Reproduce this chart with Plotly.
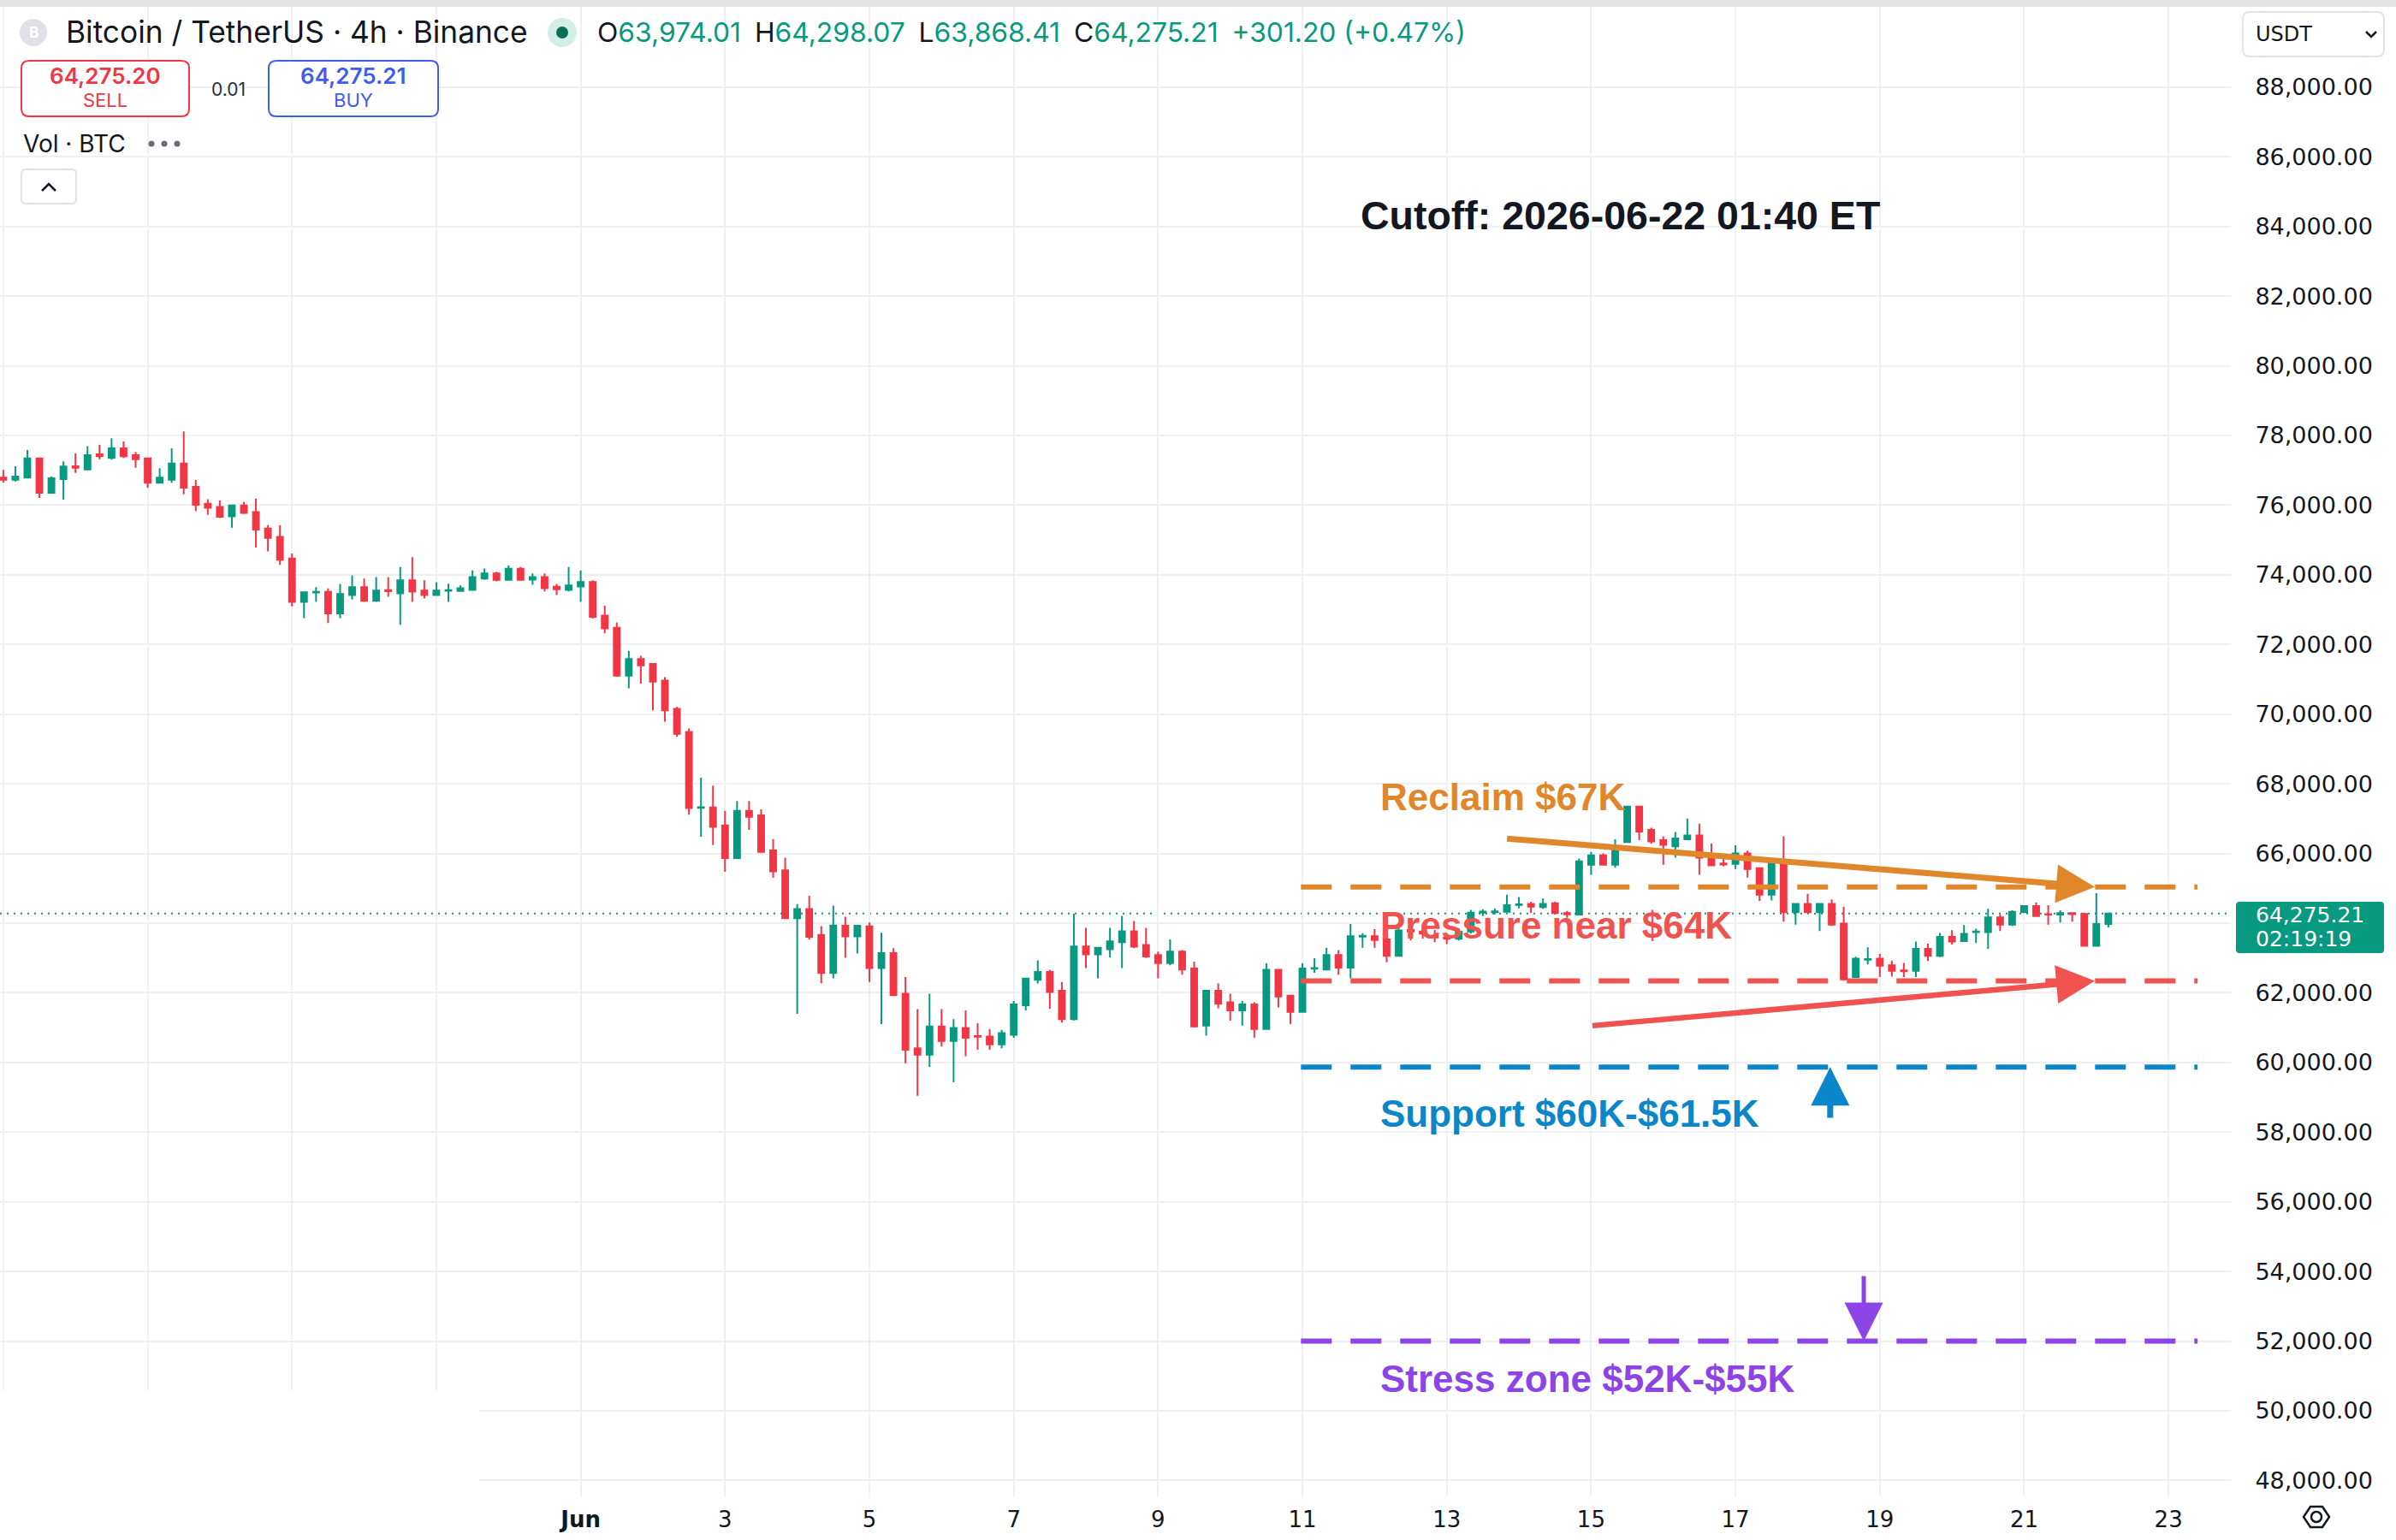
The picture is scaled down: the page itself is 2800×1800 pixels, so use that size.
import plotly.graph_objects as go
import pandas as pd

W, H = 2800, 1800

# ---------------- data ----------------
start_time = "2026-05-24 00:00"
opens = [
    76787, 76729, 76787, 77344, 76352, 76746,
    77115, 77025, 77459, 77352, 77631, 77434,
    77344, 76639, 76729, 77197, 76525, 76041,
    75951, 75680, 75992, 75803, 75328, 75090,
    74467, 73221, 73490, 73508, 72893, 73418,
    73647, 73254, 73560, 73467, 73844, 73549,
    73418, 73540, 73533, 73565, 73893, 74041,
    73852, 74172, 73860, 73934, 73656, 73565,
    73664, 73795, 72830, 72481, 71104, 71584,
    71442, 70961, 70153, 69486, 67310, 67322,
    66808, 65868, 67223, 67092, 66087, 65518,
    64141, 64403, 63660, 62567, 63923, 63616,
    63908, 62708, 63142, 61975, 60408, 60225,
    61033, 60617, 60992, 60760, 60742, 60517,
    60792, 61642, 62375, 62600, 62058, 61242,
    63333, 63100, 63250, 63450, 63767, 63375,
    63083, 62850, 63183, 62700, 61058, 62058,
    61725, 61492, 61667, 60958, 62658, 61917,
    61450, 62690, 62667, 63083, 62725, 63615,
    63625, 63533, 63058, 63800, 63760, 63640,
    63590, 63550, 63760, 64300, 64310, 64327,
    64520, 64555, 64457, 64571, 64286, 64245,
    65673, 65943, 65673, 66327, 67347, 66678,
    66384, 66204, 66408, 66514, 65894, 65710,
    65698, 66000, 65576, 64816, 65796, 64310,
    64555, 64310, 64555, 63984, 62449, 62950,
    62980, 62792, 62640, 62629, 63265, 63061,
    63608, 63486, 63740, 63739, 64163, 63959,
    64310, 64490, 64260, 64245, 64290, 64261,
    63347, 63974.01,
]
highs = [
    77008, 77115, 77582, 77360, 76820, 77254,
    77484, 77689, 77730, 77918, 77828, 77525,
    77360, 77057, 77631, 78115, 76721, 76172,
    76131, 76000, 76098, 76188, 75426, 75426,
    74607, 73510, 73647, 73606, 73737, 73984,
    73893, 73934, 73934, 74221, 74508, 73844,
    73787, 73746, 73697, 74123, 74180, 74082,
    74270, 74221, 74041, 74041, 73737, 74221,
    74123, 73844, 73110, 72634, 71814, 71672,
    71450, 71060, 70207, 69584, 68174, 67945,
    67223, 67508, 67508, 67267, 66415, 65879,
    64545, 64786, 63912, 64502, 64185, 63930,
    64017, 63725, 63283, 62450, 61533, 61975,
    61533, 61242, 61492, 61125, 60958, 60933,
    61767, 62420, 62933, 62658, 62308, 64267,
    63867, 63310, 63867, 64208, 64058, 63867,
    63183, 63533, 63225, 62892, 62070, 62267,
    61975, 61767, 61725, 62850, 62670, 61930,
    62850, 62992, 63292, 63225, 63975, 63708,
    63825, 63808, 63867, 64100, 63950, 63800,
    63700, 63850, 64380, 64400, 64420, 64816,
    64751, 64612, 64710, 64612, 64350, 65853,
    66041, 66000, 66408, 67360, 67360, 66735,
    66490, 66612, 67004, 66857, 66286, 65878,
    66237, 66082, 65590, 65810, 66490, 64565,
    64841, 64565, 64678, 64473, 63037, 63306,
    63118, 62922, 62857, 63469, 63412, 63714,
    63796, 63943, 63837, 64408, 64245, 64367,
    64514, 64596, 64514, 64367, 64302, 64302,
    64857, 64298.07,
]
lows = [
    76647, 76680, 76787, 76205, 76340, 76156,
    76926, 77010, 77320, 77303, 77352, 77074,
    76492, 76630, 76639, 76311, 75828, 75721,
    75631, 75352, 75746, 74779, 74672, 74287,
    73090, 72754, 73221, 72615, 72754, 73287,
    73221, 73221, 73369, 72565, 73221, 73320,
    73410, 73221, 73525, 73560, 73852, 73811,
    73845, 73845, 73713, 73524, 73418, 73524,
    73221, 72746, 72318, 71071, 70743, 70874,
    70109, 69781, 69355, 67114, 66480, 66240,
    65475, 65860, 66677, 66030, 65300, 64130,
    61397, 63529, 62272, 62414, 63004, 63125,
    62308, 61100, 61920, 59975, 59042, 59875,
    60458, 59433, 60183, 60367, 60367, 60408,
    60708, 61492, 62267, 61542, 61142, 61208,
    62708, 62417, 63008, 62708, 63283, 63000,
    62417, 62792, 62517, 61000, 60767, 61558,
    61200, 61058, 60708, 60950, 61583, 61100,
    61440, 62575, 62660, 62517, 62417, 63292,
    63292, 62875, 63050, 63500, 63550, 63450,
    63400, 63500, 63700, 64200, 64250, 64320,
    64425, 64286, 64408, 64245, 64150, 64240,
    65388, 65665, 65592, 66320, 66384, 66286,
    65673, 65878, 66400, 65388, 65633, 65633,
    65551, 65306, 64637, 64653, 64041, 63959,
    64300, 63772, 63918, 62351, 62440, 62816,
    62449, 62465, 62449, 62449, 62914, 63020,
    63388, 63480, 63429, 63265, 63772, 63918,
    64286, 64200, 63959, 64016, 64041, 63340,
    63340, 63868.41,
]
closes = [
    76729, 76820, 77344, 76352, 76770, 77107,
    77074, 77434, 77402, 77631, 77402, 77320,
    76639, 76787, 77197, 76500, 76008, 75926,
    75664, 75992, 75779, 75295, 75057, 74434,
    73221, 73500, 73510, 72893, 73451, 73647,
    73254, 73549, 73530, 73844, 73516, 73418,
    73549, 73560, 73615, 73934, 74041, 73852,
    74172, 73852, 73934, 73615, 73582, 73697,
    73795, 72795, 72459, 71104, 71584, 71399,
    70929, 70109, 69431, 67300, 67330, 66764,
    65868, 67223, 67048, 66043, 65485, 64141,
    64403, 63606, 62567, 63934, 63616, 63923,
    62708, 63142, 61933, 60367, 60225, 61033,
    60617, 60992, 60708, 60740, 60517, 60842,
    61667, 62408, 62600, 62025, 61242, 63333,
    63100, 63292, 63475, 63767, 63325, 63042,
    62850, 63183, 62667, 61033, 62058, 61683,
    61492, 61667, 60958, 62658, 61892, 61450,
    62700, 62710, 63083, 62725, 63625, 63635,
    63517, 63058, 63792, 63760, 63700, 63590,
    63550, 63760, 64300, 64330, 64340, 64515,
    64540, 64473, 64555, 64286, 64250, 65771,
    65943, 65673, 66163, 67347, 66629, 66343,
    66245, 66433, 66514, 65878, 65657, 65680,
    66000, 65551, 64816, 65796, 64310, 64555,
    64310, 64555, 63959, 62384, 62980, 62970,
    62776, 62629, 62620, 63265, 63061, 63608,
    63469, 63690, 63760, 64163, 63959, 64327,
    64490, 64204, 64245, 64286, 64260, 63347,
    63974.01, 64275.21,
]
times = pd.date_range(start_time, periods=len(opens), freq="4h")

y_tick_vals = list(range(48000, 88001, 2000))
x_tick_vals = pd.date_range("2026-05-24", "2026-06-23", freq="2D")
x_range = ["2026-05-23 22:54", "2026-06-23 20:44"]
y_range = [47519, 90304]

bid_price = 64275.20
ask_price = 64275.21
spread = 0.01
countdown = "02:19:19"
cutoff_text = "Cutoff: 2026-06-22 01:40 ET"

# horizontal levels
level_prices = [65040, 62340, 59870, 52000]
level_colors = ["#E0872B", "#F0534F", "#0B86C8", "#8D44E6"]
level_start = "2026-06-10 23:30"
level_end = "2026-06-23 09:40"

# text labels
label_texts = ["Reclaim $67K", "Pressure near $64K", "Support $60K-$61.5K", "Stress zone $52K-$55K"]
label_x = "2026-06-12 01:19"
label_y = [67610, 63926, 58523, 50910]

# arrows: tail -> tip
arrow_tail_x = ["2026-06-13 19:36", "2026-06-15 00:00", "2026-06-18 07:30", "2026-06-18 18:40"]
arrow_tail_y = [66430, 61052, 58375, 53905]
arrow_tip_x = ["2026-06-21 23:30", "2026-06-21 23:30", "2026-06-18 07:30", "2026-06-18 18:40"]
arrow_tip_y = [65040, 62340, 59870, 52000]
arrow_colors = ["#E0872B", "#F0534F", "#0B86C8", "#8D44E6"]
arrow_widths = [7, 6.5, 7, 5]

UP = "#089981"
DOWN = "#F23645"
BUYC = "#3F5CF0"
TXT = "#131722"
GRID = "#EEF0F4"

# ---------------- helpers ----------------
def px(x):
    return x / W

def py(y):
    return 1 - y / H

def rrect(x0, y0, x1, y1, r):
    def p(x, y):
        return f"{px(x):.6f},{py(y):.6f}"
    return (f"M{p(x0 + r, y0)} L{p(x1 - r, y0)} Q{p(x1, y0)} {p(x1, y0 + r)} "
            f"L{p(x1, y1 - r)} Q{p(x1, y1)} {p(x1 - r, y1)} L{p(x0 + r, y1)} "
            f"Q{p(x0, y1)} {p(x0, y1 - r)} L{p(x0, y0 + r)} Q{p(x0, y0)} {p(x0 + r, y0)} Z")

def poly(points, close=False):
    s = "M" + " L".join(f"{px(x):.6f},{py(y):.6f}" for x, y in points)
    return s + (" Z" if close else "")

def ptext(x, y, text, size, color, family="Inter", xanchor="center", weight="normal"):
    return dict(x=px(x), y=py(y), xref="paper", yref="paper", text=text,
                showarrow=False, xanchor=xanchor, yanchor="middle",
                font=dict(family=family, size=size, color=color, weight=weight))

def pcircle(cx, cy, r, color):
    return dict(type="circle", xref="paper", yref="paper",
                x0=px(cx - r), x1=px(cx + r), y0=py(cy + r), y1=py(cy - r),
                fillcolor=color, line=dict(width=0), layer="above")

# ---------------- figure ----------------
fig = go.Figure()
fig.add_trace(go.Candlestick(
    x=times, open=opens, high=highs, low=lows, close=closes,
    increasing=dict(line=dict(color=UP, width=2), fillcolor=UP),
    decreasing=dict(line=dict(color=DOWN, width=2), fillcolor=DOWN),
    whiskerwidth=0, hoverinfo="skip", showlegend=False,
))

x_tick_text = []
for d in x_tick_vals:
    if d.month == 5:
        x_tick_text.append("")
    elif d.day == 1:
        x_tick_text.append("<b>Jun</b>")
    else:
        x_tick_text.append(str(d.day))

y_tick_text = ["" if v == 64000 else f"{v:,.2f}" for v in y_tick_vals]

fig.update_layout(
    width=W, height=H, margin=dict(l=0, r=0, t=0, b=0),
    paper_bgcolor="white", plot_bgcolor="white",
    showlegend=False, boxgap=0.3,
    xaxis=dict(
        type="date", range=x_range, domain=[0, 2607 / W],
        tickvals=list(x_tick_vals), ticktext=x_tick_text,
        showgrid=True, gridcolor=GRID, gridwidth=2,
        ticks="outside", ticklen=3, tickcolor="rgba(0,0,0,0)",
        tickfont=dict(family="DejaVu Sans", size=26, color=TXT),
        showline=False, zeroline=False, rangeslider=dict(visible=False),
        fixedrange=True,
    ),
    yaxis=dict(
        range=y_range, domain=[1 - 1750 / H, 1 - 8 / H], side="right",
        tickvals=y_tick_vals, ticktext=y_tick_text,
        showgrid=True, gridcolor=GRID, gridwidth=2,
        ticks="outside", ticklen=22, tickcolor="rgba(0,0,0,0)",
        tickfont=dict(family="DejaVu Sans", size=27, color=TXT),
        showline=False, zeroline=False, fixedrange=True,
    ),
)

shapes = []
annotations = []

# top grey strip
shapes.append(dict(type="rect", xref="paper", yref="paper", x0=0, x1=1, y0=py(8), y1=1,
                   fillcolor="#E4E4E4", line=dict(width=0), layer="above"))
# bottom-left blank area
shapes.append(dict(type="rect", xref="paper", yref="paper", x0=0, x1=px(560), y0=0, y1=py(1625),
                   fillcolor="white", line=dict(width=0), layer="above"))

# current price dotted line
shapes.append(dict(type="line", xref="x domain", yref="y", x0=0, x1=1,
                   y0=closes[-1], y1=closes[-1],
                   line=dict(color=UP, width=2, dash="2px,6px"), layer="below"))

# level dashed lines
for pr, col in zip(level_prices, level_colors):
    shapes.append(dict(type="line", xref="x", yref="y", x0=level_start, x1=level_end,
                       y0=pr, y1=pr, line=dict(color=col, width=6, dash="36px,22px"),
                       layer="above"))

# arrows
for tx, ty, hx, hy, col, lw in zip(arrow_tail_x, arrow_tail_y, arrow_tip_x, arrow_tip_y,
                                    arrow_colors, arrow_widths):
    annotations.append(dict(
        x=hx, y=hy, xref="x", yref="y", ax=tx, ay=ty, axref="x", ayref="y",
        text="", showarrow=True, arrowhead=2, arrowwidth=lw, arrowsize=9.0 / lw,
        arrowcolor=col, standoff=0,
    ))

# level labels
for t, yv, col in zip(label_texts, label_y, level_colors):
    annotations.append(dict(
        x=label_x, y=yv, xref="x", yref="y", text=f"<b>{t}</b>", showarrow=False,
        xanchor="left", yanchor="middle",
        font=dict(family="Liberation Sans", size=44, color=col),
    ))

# cutoff title
annotations.append(ptext(1893, 252, f"<b>{cutoff_text}</b>", 46.5, TXT, family="Liberation Sans"))

# ----- header (top-left) -----
shapes.append(pcircle(39, 38, 16, "#DFE1E6"))
annotations.append(ptext(39, 38, "<b>B</b>", 17, "white"))
annotations.append(ptext(75, 38, "Bitcoin / TetherUS · 4h · Binance", 35.3, TXT, xanchor="left"))
shapes.append(pcircle(657, 38, 17, "#D3EEE7"))
shapes.append(pcircle(657, 38, 7, "#0A6E55"))

o, h, l, c = opens[-1], highs[-1], lows[-1], closes[-1]
chg = c - opens[-1]
pct = chg / opens[-1] * 100
g = f'<span style="color:{UP}">'
ohlc_text = (f"O{g}{o:,.2f}</span>\u2002H{g}{h:,.2f}</span>\u2002L{g}{l:,.2f}</span>"
             f"\u2002C{g}{c:,.2f}</span>\u2002{g}{chg:+,.2f} ({pct:+.2f}%)</span>")
annotations.append(ptext(696, 38, ohlc_text, 31.8, TXT, xanchor="left"))

# sell / buy boxes
shapes.append(dict(type="path", xref="paper", yref="paper", path=rrect(25, 71, 221, 136, 9),
                   line=dict(color=DOWN, width=2), fillcolor="white", layer="above"))
shapes.append(dict(type="path", xref="paper", yref="paper", path=rrect(314, 71, 512, 136, 9),
                   line=dict(color=BUYC, width=2), fillcolor="white", layer="above"))
annotations += [
    ptext(123, 89, f"{bid_price:,.2f}", 26, DOWN, weight=600),
    ptext(123, 117, "SELL", 22, DOWN),
    ptext(413, 89, f"{ask_price:,.2f}", 26, BUYC, weight=600),
    ptext(413, 117, "BUY", 22, BUYC),
    ptext(267, 104, f"{spread:.2f}", 21, "#2A2E39"),
    ptext(25, 168, "Vol · BTC", 28, TXT, xanchor="left"),
]
for dx in (177, 192, 207):
    shapes.append(pcircle(dx, 168, 3.5, "#6A6D78"))

# collapse button
shapes.append(dict(type="path", xref="paper", yref="paper", path=rrect(25, 198, 89, 238, 5),
                   line=dict(color="#E0E3EB", width=2), fillcolor="white", layer="above"))
shapes.append(dict(type="path", xref="paper", yref="paper",
                   path=poly([(49, 223), (57, 215), (65, 223)]),
                   line=dict(color=TXT, width=2.5), layer="above"))

# ----- right price scale chrome -----
shapes.append(dict(type="path", xref="paper", yref="paper", path=rrect(2621, 14, 2786, 66, 8),
                   line=dict(color="#E0E3EB", width=2), fillcolor="white", layer="above"))
annotations.append(ptext(2634, 40, "USDT", 24, TXT, family="DejaVu Sans", xanchor="left"))
shapes.append(dict(type="path", xref="paper", yref="paper",
                   path=poly([(2765, 37), (2771, 43), (2777, 37)]),
                   line=dict(color=TXT, width=2.5), layer="above"))

# last price label
shapes.append(dict(type="path", xref="paper", yref="paper", path=rrect(2613, 1054, 2786, 1114, 4),
                   line=dict(width=0), fillcolor=UP, layer="above"))
annotations.append(ptext(2634, 1069, f"{c:,.2f}", 25, "white", family="DejaVu Sans", xanchor="left"))
annotations.append(ptext(2634, 1097, countdown, 25, "white", family="DejaVu Sans", xanchor="left"))

# settings icon bottom-right
shapes.append(dict(type="path", xref="paper", yref="paper",
                   path=poly([(2692, 1773), (2700, 1761), (2714, 1761), (2722, 1773),
                              (2714, 1785), (2700, 1785)], close=True),
                   line=dict(color=TXT, width=2.5), layer="above"))
shapes.append(dict(type="circle", xref="paper", yref="paper",
                   x0=px(2701), x1=px(2713), y0=py(1779), y1=py(1767),
                   line=dict(color=TXT, width=2.5), layer="above"))

fig.update_layout(shapes=shapes, annotations=annotations)
fig.write_html("out.html", config={"displayModeBar": False, "staticPlot": True})
